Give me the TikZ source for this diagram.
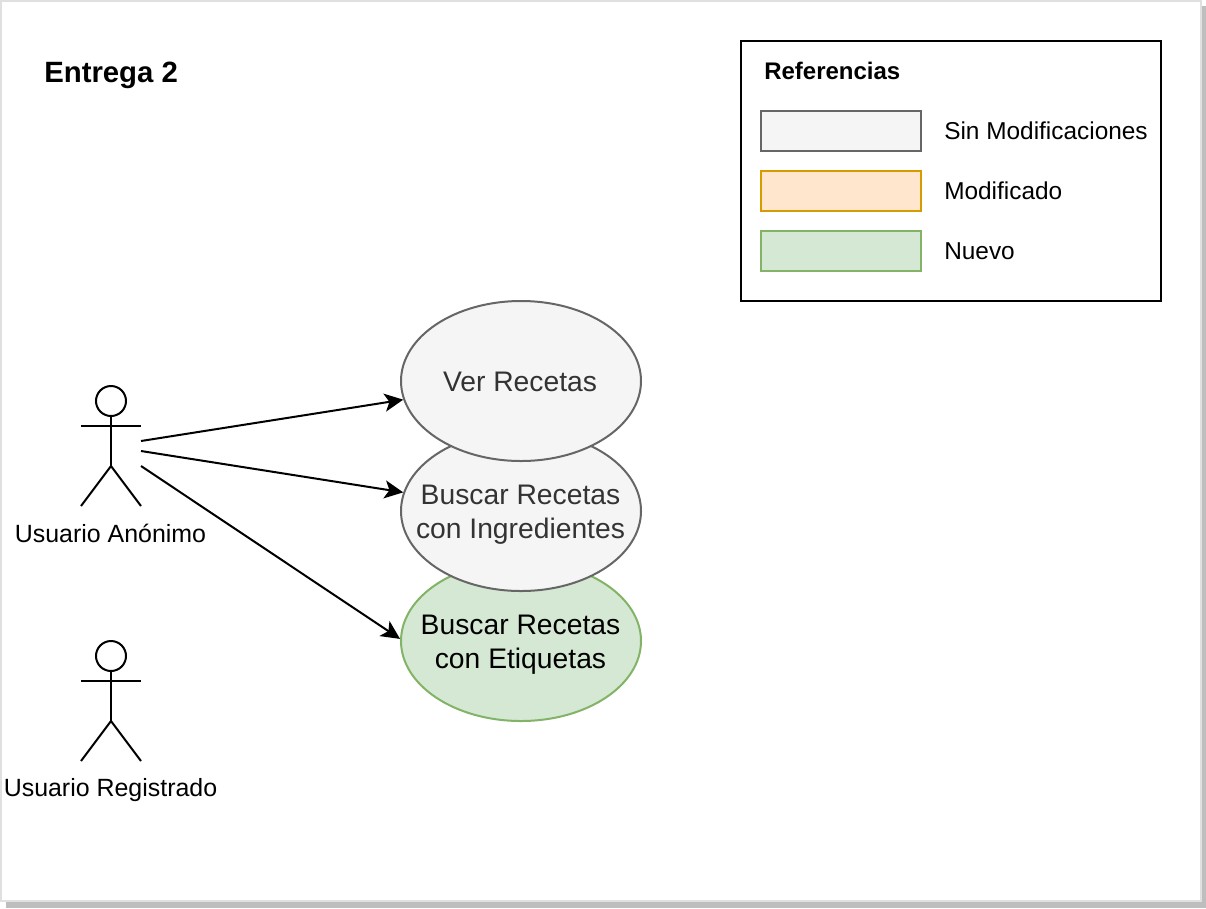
\documentclass[tikz,border=0pt]{standalone}
\usepackage{fontspec}
\setmainfont{Liberation Sans}
\usepackage{xcolor}
\usetikzlibrary{arrows.meta,shapes.geometric}

\definecolor{grisfill}{RGB}{245,245,245}
\definecolor{grisline}{RGB}{102,102,102}
\definecolor{gristext}{RGB}{51,51,51}
\definecolor{naranjafill}{RGB}{255,230,204}
\definecolor{naranjaline}{RGB}{215,155,0}
\definecolor{verdefill}{RGB}{213,232,212}
\definecolor{verdeline}{RGB}{130,179,102}
\definecolor{marcoline}{RGB}{224,224,224}
\definecolor{sombra}{RGB}{190,190,190}

\tikzset{
  casouso/.style={ellipse,draw,line width=1.5pt,inner sep=0pt,minimum width=180pt,minimum height=120pt},
  casogris/.style={casouso,draw=grisline,fill=grisfill},
  casoverde/.style={casouso,draw=verdeline,fill=verdefill},
  casotexto/.style={inner sep=0pt,align=center,font=\fontsize{21.2}{25.5}\selectfont},
  refcaja/.style={draw,line width=1.5pt,inner sep=0pt,minimum width=120pt,minimum height=30pt},
  reftexto/.style={anchor=base west,inner sep=0pt,font=\fontsize{18.3}{22}\selectfont},
  actortexto/.style={anchor=base,inner sep=0pt,font=\fontsize{18.7}{22}\selectfont},
  trazo/.style={line width=1.5pt,draw=black},
  flecha/.style={trazo,-{Stealth[length=14pt,width=13.5pt,inset=3.5pt]}}
}

\newcommand{\actor}[3]{%
  \node (#3) [circle,draw,line width=1.5pt,inner sep=0pt,minimum size=22.5pt] at (#1,#2) {};
  \draw[trazo] (#3.south) -- (#1,#2+65);
  \draw[trazo] (#1-30,#2+25) -- (#1+30,#2+25);
  \draw[trazo] (#1-30,#2+105) -- (#1,#2+65) -- (#1+30,#2+105);
}

\begin{document}
\begin{tikzpicture}[x=0.75pt,y=0.75pt,yscale=-1]
\useasboundingbox (0,0) rectangle (1206,908);

%Page
\fill[sombra] (6,6) rectangle (1206,908);
\fill[marcoline] (0,0) rectangle (1202,902);
\fill[white] (2,2) rectangle (1200,900);

%Title
\node (titulo) [anchor=base west,inner sep=0pt,font=\fontsize{22}{25}\selectfont\bfseries] at (44,82) {Entrega 2};

%Legend
\node (marco) [draw,line width=1.5pt,inner sep=0pt,minimum width=315pt,minimum height=195pt] at (951,171) {};
\node (reftitulo) [anchor=base west,inner sep=0pt,font=\fontsize{18}{20}\selectfont\bfseries] at (764,79) {Referencias};
\node (cajagris) [refcaja,draw=grisline,fill=grisfill] at (841,131) {};
\node (cajanaranja) [refcaja,draw=naranjaline,fill=naranjafill] at (841,191) {};
\node (cajaverde) [refcaja,draw=verdeline,fill=verdefill] at (841,251) {};
\node (textogris) [reftexto] at (944,139) {Sin Modificaciones};
\node (textonaranja) [reftexto] at (944,199) {Modificado};
\node (textoverde) [reftexto] at (944,259) {Nuevo};

%Use cases
\node (etiquetas) [casoverde] at (521,641) {};
\node (textoetiquetas) [casotexto,text=black] at (520.5,645) {Buscar Recetas\\con Etiquetas};
\node (ingredientes) [casogris] at (521,511) {};
\node (textoingredientes) [casotexto,text=gristext] at (520.5,515) {Buscar Recetas\\con Ingredientes};
\node (recetas) [casogris] at (521,381) {};
\node (textorecetas) [casotexto,text=gristext] at (520,381.5) {Ver Recetas};

%Actors
\actor{111}{401}{anonimo}
\actor{111}{656}{registrado}
\node (textoanonimo) [actortexto] at (110.5,542) {Usuario Anónimo};
\node (textoregistrado) [actortexto] at (110.5,796) {Usuario Registrado};

%Connectors
\coordinate (salidaa) at (141,441);
\coordinate (salidab) at (141,451);
\coordinate (salidac) at (141,466);
\draw[flecha] (salidaa) -- (recetas.189);
\draw[flecha] (salidab) -- (ingredientes.171);
\draw[flecha] (salidac) -- (etiquetas.179);
\end{tikzpicture}
\end{document}
